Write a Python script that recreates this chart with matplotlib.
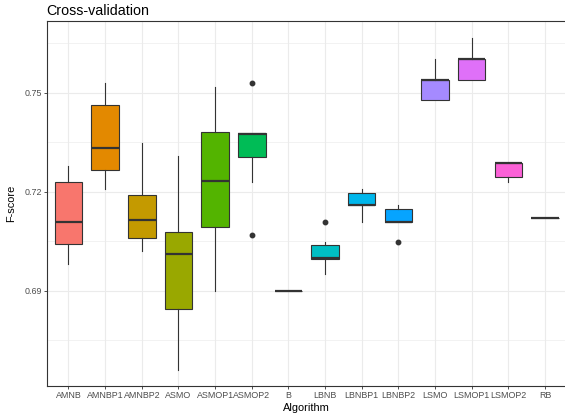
import matplotlib
matplotlib.use("Agg")
import matplotlib.pyplot as plt
from matplotlib.ticker import FixedLocator

algorithms = ["AMNB", "AMNBP1", "AMNBP2", "ASMO", "ASMOP1", "ASMOP2", "B",
              "LBNB", "LBNBP1", "LBNBP2", "LSMO", "LSMOP1", "LSMOP2", "RB"]
whislo = [0.6980, 0.7209, 0.7019, 0.6660, 0.6900, 0.7229, 0.6900,
          0.6951, 0.7109, 0.7109, 0.7478, 0.7538, 0.7230, 0.7119]
q1 = [0.7042, 0.7264, 0.7059, 0.6844, 0.7094, 0.7304, 0.6900,
      0.6997, 0.7160, 0.7109, 0.7478, 0.7538, 0.7244, 0.7119]
med = [0.7108, 0.7333, 0.7114, 0.7010, 0.7233, 0.7375, 0.6900,
       0.6999, 0.7160, 0.7109, 0.7538, 0.7601, 0.7286, 0.7119]
q3 = [0.7228, 0.7463, 0.7190, 0.7077, 0.7381, 0.7379, 0.6900,
      0.7038, 0.7196, 0.7147, 0.7538, 0.7601, 0.7286, 0.7119]
whishi = [0.7278, 0.7528, 0.7347, 0.7308, 0.7516, 0.7379, 0.6900,
          0.7048, 0.7207, 0.7160, 0.7601, 0.7664, 0.7286, 0.7119]
outliers = [[], [], [], [], [], [0.7528, 0.7070], [],
            [0.7108], [], [0.7048], [], [], [], []]
yticks = [0.69, 0.72, 0.75]
yticklabels = ["0.69", "0.72", "0.75"]

colors = ["#F8766D", "#E38900", "#C49A00", "#99A800", "#53B400", "#00BC56",
          "#00C094", "#00BFC4", "#00B6EB", "#06A4FF", "#A58AFF", "#DF70F8",
          "#FB61D7", "#FF66A8"]

plt.rcParams["font.family"] = ["Liberation Sans", "DejaVu Sans"]

fig = plt.figure(figsize=(5.65, 4.16), dpi=100)
L, R, T, B = 46.5, 567.0, 21.0, 386.0
ax = fig.add_axes([L / 565, 1 - B / 416, (R - L) / 565, (B - T) / 416])

stats = []
for i, name in enumerate(algorithms):
    stats.append(dict(label=name, whislo=whislo[i], q1=q1[i], med=med[i],
                      q3=q3[i], whishi=whishi[i], fliers=outliers[i]))

positions = list(range(1, len(algorithms) + 1))
grey20 = "#333333"
bp = ax.bxp(stats, positions=positions, widths=0.75, patch_artist=True,
            showcaps=False,
            boxprops=dict(edgecolor=grey20, linewidth=0.8),
            medianprops=dict(color=grey20, linewidth=1.6, solid_capstyle="butt"),
            whiskerprops=dict(color=grey20, linewidth=0.8),
            flierprops=dict(marker="o", markerfacecolor=grey20,
                            markeredgecolor=grey20, markersize=3.2))
for patch, c in zip(bp["boxes"], colors):
    patch.set_facecolor(c)

ax.set_xlim(0.4, len(algorithms) + 0.6)
ax.set_ylim(0.6611, 0.7717)
ax.set_xticks(positions)
ax.set_xticklabels(algorithms)
ax.set_yticks(yticks)
ax.set_yticklabels(yticklabels)
ax.yaxis.set_minor_locator(FixedLocator([0.675, 0.705, 0.735, 0.765]))

ax.set_axisbelow(True)
ax.grid(True, which="major", color="#EBEBEB", linewidth=0.8)
ax.grid(True, which="minor", axis="y", color="#EBEBEB", linewidth=0.45)
ax.tick_params(axis="both", which="major", length=2, width=0.6, color=grey20,
               labelsize=6.4, labelcolor="#4D4D4D", pad=1.5)
ax.tick_params(axis="y", which="minor", length=0)
for s in ax.spines.values():
    s.set_color(grey20)
    s.set_linewidth(0.8)

ax.set_xlabel("Algorithm", fontsize=7.9, labelpad=2)
ax.set_ylabel("F-score", fontsize=7.9, labelpad=6)
ax.set_title("Cross-validation", fontsize=10.3, loc="left", pad=4)

fig.savefig("out.png", dpi=100)
